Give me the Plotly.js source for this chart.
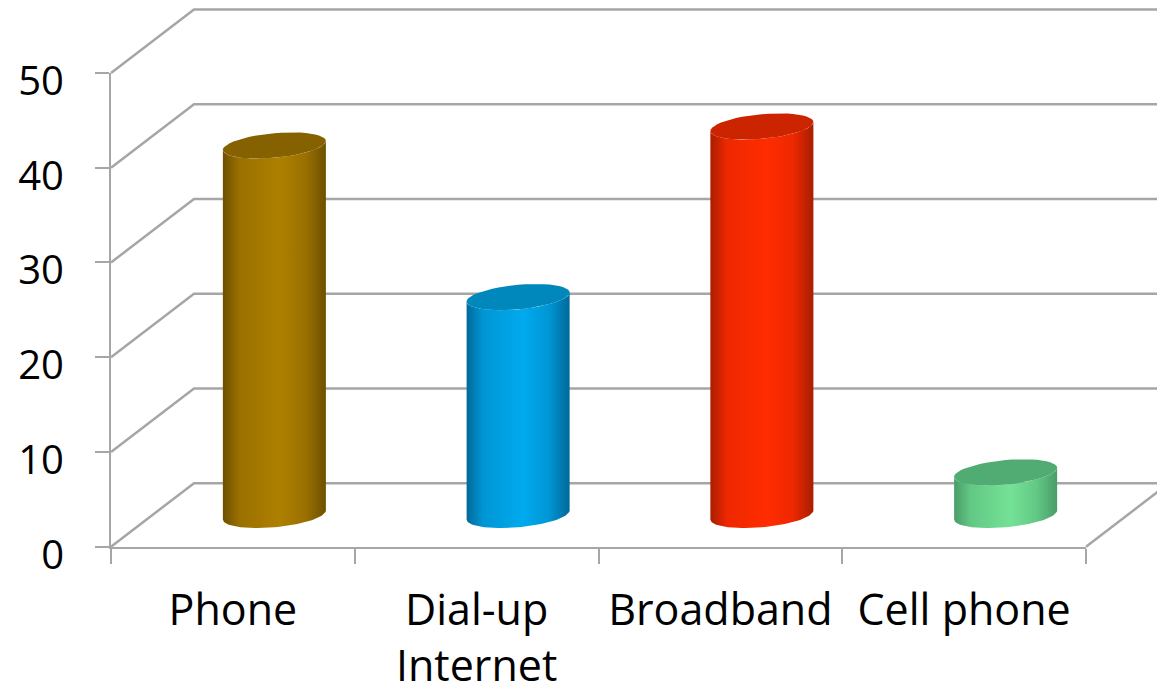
<!DOCTYPE html>
<html>
<head>
<meta charset="utf-8">
<script src="https://cdn.plot.ly/plotly-3.0.1.min.js"></script>
<style>
  html, body { margin: 0; padding: 0; background: #fff; overflow: hidden; }
  #chart { width: 1157px; height: 685px; }
</style>
</head>
<body>
<div id="chart"></div>
<script>
// Chart values
const categories = ['Phone', 'Dial-up<br>Internet', 'Broadband', 'Cell phone'];
const values = [39, 23, 41, 4.5];
const valueTicks = [0, 10, 20, 30, 40, 50];

// Cylinder colours: edge, shoulder, highlight, top cap
const edgeColors = ['#6E5000', '#00699A', '#A81E00', '#4A9C68'];
const shoulderColors = ['#9A7000', '#0096D4', '#EE2800', '#62C884'];
const lightColors = ['#AE8000', '#00AAEE', '#FF2C00', '#74E296'];
const capColors = ['#856100', '#0087BC', '#CC2300', '#50AC72'];

// Oblique projection, in axis units
const depthX = 0.3405;
const depthY = 6.7;
const radiusX = 0.2113;
const tiltY = 0.475;
const radiusY = 1.3;
const axisColor = '#A6A6A6';

// Page and frame geometry
const pageW = 1157, pageH = 685;
const frame = { l: 111, r: 1086, t: 73, b: 546.7 };
const valueLabelDrop = 8;

const xMin = -0.5, xMax = categories.length - 0.5;
const yMin = 0, yMax = 50;
const pxPerX = (frame.r - frame.l) / (xMax - xMin);
const pxPerY = (frame.b - frame.t) / (yMax - yMin);

function ellipseArc(cx, cy, from, to) {
  const xs = [], ys = [];
  const steps = 48;
  for (let k = 0; k <= steps; k++) {
    const t = from + (to - from) * k / steps;
    xs.push(cx + radiusX * Math.cos(t));
    ys.push(cy + tiltY * Math.cos(t) + radiusY * Math.sin(t));
  }
  return [xs, ys];
}

// Back wall, floor edge and the slanted lines joining them to the front.
// These sit on a page-wide subplot with the same scale, so they may run past the frame.
const gridX = [], gridY = [];
valueTicks.forEach(v => {
  gridX.push(xMin, xMin + depthX, xMax + depthX, null);
  gridY.push(v, v + depthY, v + depthY, null);
});
gridX.push(xMax, xMax + depthX);
gridY.push(yMin, yMin + depthY);

const traces = [{
  x: gridX, y: gridY, xaxis: 'x', yaxis: 'y', type: 'scatter', mode: 'lines',
  line: { color: axisColor, width: 2.5 }, hoverinfo: 'skip', showlegend: false
}];

values.forEach((value, i) => {
  const cx = i + depthX / 2;
  const base = depthY / 2;
  const top = base + value;
  const lower = ellipseArc(cx, base, Math.PI, 2 * Math.PI);
  const upper = ellipseArc(cx, top, 0, -Math.PI);
  traces.push({
    x: lower[0].concat(upper[0]),
    y: lower[1].concat(upper[1]),
    xaxis: 'x2', yaxis: 'y2',
    type: 'scatter', mode: 'lines', fill: 'toself',
    line: { width: 0 }, hoverinfo: 'skip', showlegend: false,
    fillgradient: {
      type: 'horizontal',
      colorscale: [
        [0, edgeColors[i]], [0.16, shoulderColors[i]], [0.55, lightColors[i]],
        [0.8, shoulderColors[i]], [1, edgeColors[i]]
      ]
    }
  });
  const cap = ellipseArc(cx, top, 0, 2 * Math.PI);
  traces.push({
    x: cap[0], y: cap[1], xaxis: 'x2', yaxis: 'y2',
    type: 'scatter', mode: 'lines', fill: 'toself',
    fillcolor: capColors[i], line: { width: 0 }, hoverinfo: 'skip', showlegend: false
  });
});

// Empty trace that brings the label-only value axis into the figure
traces.push({
  x: [null], y: [null], xaxis: 'x2', yaxis: 'y3', type: 'scatter', mode: 'lines',
  hoverinfo: 'skip', showlegend: false
});

const layout = {
  width: pageW, height: pageH,
  margin: { l: 0, r: 0, t: 0, b: 0, pad: 0 },
  paper_bgcolor: '#fff', plot_bgcolor: 'rgba(0,0,0,0)',
  showlegend: false,
  font: { family: 'Open Sans, sans-serif', color: '#000' },
  // Page-wide subplot carrying the walls
  xaxis: {
    domain: [0, 1], visible: false, fixedrange: true,
    range: [xMin - frame.l / pxPerX, xMax + (pageW - frame.r) / pxPerX]
  },
  yaxis: {
    domain: [0, 1], visible: false, fixedrange: true,
    range: [yMin - (pageH - frame.b) / pxPerY, yMax + frame.t / pxPerY]
  },
  // Front frame carrying the ticks, labels and cylinders
  xaxis2: {
    anchor: 'y2', domain: [frame.l / pageW, frame.r / pageW],
    range: [xMin, xMax], tickmode: 'array',
    tickvals: categories.map((c, i) => i), ticktext: categories,
    tickangle: 0, ticks: '', showgrid: false, zeroline: false,
    showline: true, linecolor: axisColor, linewidth: 2.5,
    tickfont: { size: 43, family: 'Open Sans, sans-serif', color: '#000' },
    ticklabelstandoff: 24,
    minor: {
      tickmode: 'array', tickvals: categories.map((c, i) => i - 0.5).concat([xMax]),
      ticks: 'outside', ticklen: 15, tickwidth: 2, tickcolor: axisColor, showgrid: false
    }
  },
  yaxis2: {
    anchor: 'x2', domain: [(pageH - frame.b) / pageH, (pageH - frame.t) / pageH],
    range: [yMin, yMax], tickmode: 'array', tickvals: valueTicks, showticklabels: false,
    ticks: 'outside', ticklen: 14, tickwidth: 2, tickcolor: axisColor,
    showgrid: false, zeroline: false, showline: true, linecolor: axisColor, linewidth: 2.5
  },
  // Value labels, on a copy of the value axis set slightly lower than its ticks
  yaxis3: {
    anchor: 'x2',
    domain: [(pageH - frame.b - valueLabelDrop) / pageH, (pageH - frame.t - valueLabelDrop) / pageH],
    range: [yMin, yMax], tickmode: 'array', tickvals: valueTicks,
    ticks: '', showgrid: false, zeroline: false, showline: false,
    tickfont: { size: 40, family: 'Open Sans, sans-serif', color: '#000' },
    ticklabelstandoff: 46
  }
};

Plotly.newPlot('chart', traces, layout, { staticPlot: true, displayModeBar: false });
</script>
</body>
</html>
